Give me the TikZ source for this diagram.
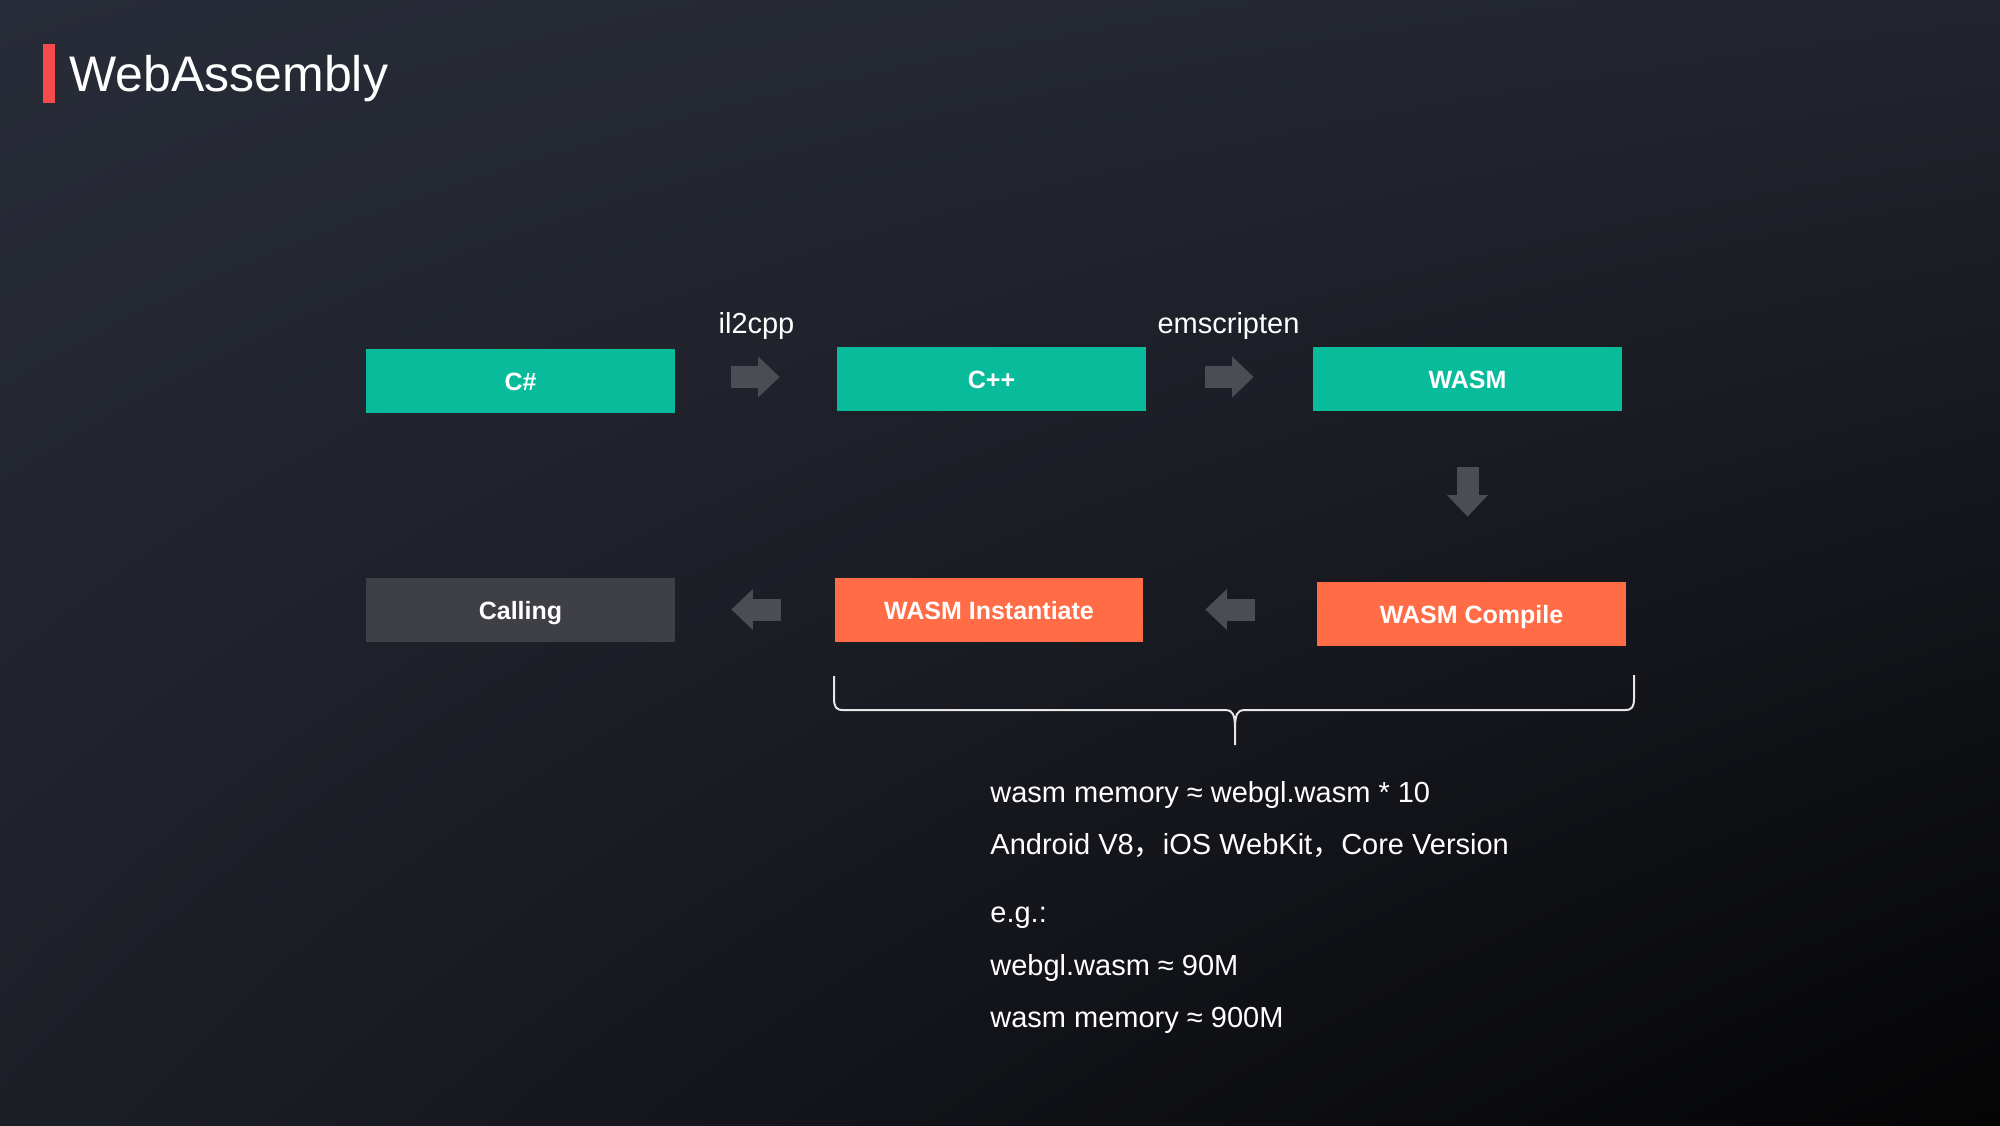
\documentclass[tikz,border=0pt]{standalone}
\usepackage{fontspec}
\setmainfont{Liberation Sans}
\newfontfamily\cjk{Noto Sans CJK SC}
\usetikzlibrary{arrows.meta,shadings}
\definecolor{teal}{HTML}{08BB9B}
\definecolor{orng}{HTML}{FF6C45}
\definecolor{callgray}{HTML}{3F4045}
\definecolor{arrgray}{HTML}{4A4D54}
\definecolor{redbar}{HTML}{F44C4C}
\definecolor{bgA}{HTML}{282C38}
\definecolor{bgB}{HTML}{22252E}
\definecolor{bgC}{HTML}{1D1F27}
\definecolor{bgD}{HTML}{040405}
\definecolor{bracecol}{HTML}{E6E6E6}
\tikzset{
  box/.style={minimum width=154.5pt, minimum height=32pt, inner sep=0pt,
    text=white, font=\fontsize{12.5}{15}\selectfont\bfseries,
    text height=9pt, text depth=0pt},
  tealbox/.style={box, fill=teal},
  orbox/.style={box, fill=orng},
  graybox/.style={box, fill=callgray},
  blockarrow/.style={draw=arrgray, line width=11pt,
    -{Triangle[length=10.75pt, width=20.5pt, line width=0pt]}},
  lbl/.style={text=white, font=\fontsize{14.5}{17}\selectfont, inner sep=0pt},
  note/.style={text=white, font=\fontsize{14.5}{17}\selectfont, inner sep=0pt, anchor=base west}
}
\begin{document}
\begin{tikzpicture}[x=0.5pt, y=-0.5pt]
\useasboundingbox (0,0) rectangle (2000,1125);
\shade[upper left=bgA, upper right=bgB, lower left=bgC, lower right=bgD] (0,0) rectangle (2000,1125);
% title
\fill[redbar] (43,44) rectangle (55,103);
\node[text=white, font=\fontsize{25}{30}\selectfont, inner sep=0pt, anchor=base west] (title) at (69,91) {WebAssembly};
% boxes
\node[tealbox] (cs) at (520.5,381) {C\#};
\node[tealbox] (cpp) at (991.5,379) {C++};
\node[tealbox] (wasm) at (1467.5,379) {WASM};
\node[graybox] (calling) at (520.5,610) {Calling};
\node[orbox, minimum width=154pt] (inst) at (989,610) {WASM Instantiate};
\node[orbox] (compile) at (1471.5,614) {WASM Compile};
% labels
\node[lbl, anchor=base] (l1) at (756.5,333) {il2cpp};
\node[lbl, anchor=base] (l2) at (1228.5,333) {emscripten};
% arrows
\draw[blockarrow, shorten <=28pt, shorten >=28.5pt] (cs.east |- 0,377) -- (cpp.west |- 0,377);
\draw[blockarrow, shorten <=29.5pt, shorten >=29.5pt] (cpp.east |- 0,377) -- (wasm.west |- 0,377);
\draw[blockarrow, shorten <=28pt, shorten >=32.5pt] (wasm.south) -- (wasm.south |- compile.north);
\draw[blockarrow, shorten <=31pt, shorten >=31pt] (compile.west |- 0,609.5) -- (inst.east |- 0,609.5);
\draw[blockarrow, shorten <=27pt, shorten >=28pt] (inst.west |- 0,609.5) -- (calling.east |- 0,609.5);
% brace
\coordinate (bl) at (834,676);
\coordinate (br) at (1634,675);
\coordinate (bt) at (1235,745);
\draw[bracecol, line width=1pt, line join=round]
  (bl) -- (834,698) .. controls (834,707) and (836,710) .. (843,710)
  -- (1226,710) .. controls (1232,710) and (1235,714) .. (1235,728) -- (bt);
\draw[bracecol, line width=1pt, line join=round]
  (br) -- (1634,698) .. controls (1634,707) and (1632,710) .. (1625,710)
  -- (1244,710) .. controls (1238,710) and (1235,714) .. (1235,728);
% notes
\node[note] (n1) at (990,802) {wasm memory ≈ webgl.wasm * 10};
\node[note] (n2) at (990,854) {Android V8{\cjk ，}iOS WebKit{\cjk ，}Core Version};
\node[note] (n3) at (990,922) {e.g.:};
\node[note] (n4) at (990,975) {webgl.wasm ≈ 90M};
\node[note] (n5) at (990,1027) {wasm memory ≈ 900M};
\end{tikzpicture}
\end{document}
